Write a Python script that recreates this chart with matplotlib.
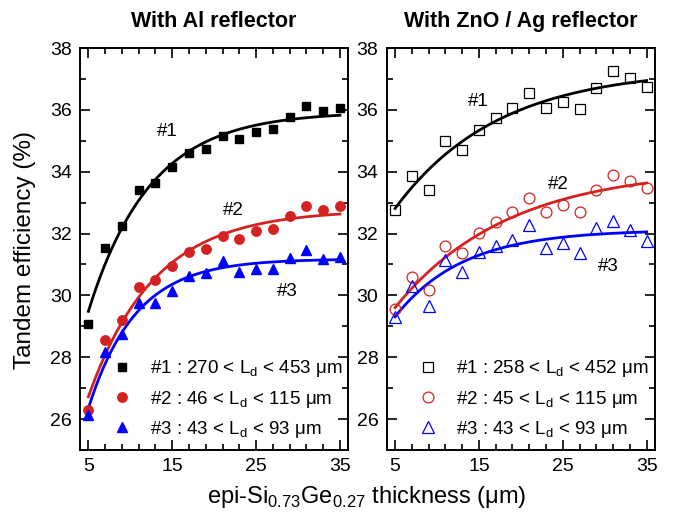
import numpy as np
import matplotlib
matplotlib.use('Agg')
import matplotlib.pyplot as plt
from matplotlib.ticker import FixedLocator

plt.rcParams['font.family'] = ['Liberation Sans', 'DejaVu Sans']
plt.rcParams['mathtext.fontset'] = 'custom'
plt.rcParams['mathtext.rm'] = 'Liberation Sans'

# Espesor de la capa epi (um)
thickness = [5, 7, 9, 11, 13, 15, 17, 19, 21, 23, 25, 27, 29, 31, 33, 35]

# Reflector de Al
al_1 = [29.06, 31.54, 32.24, 33.40, 33.63, 34.14, 34.60, 34.73, 35.14, 35.06,
        35.30, 35.38, 35.78, 36.11, 35.97, 36.05]
al_2 = [26.30, 28.56, 29.20, 30.28, 30.49, 30.95, 31.40, 31.51, 31.91, 31.84,
        32.08, 32.15, 32.56, 32.88, 32.75, 32.88]
al_3 = [26.13, 28.17, 28.74, 29.76, 29.76, 30.14, 30.62, 30.73, 31.11, 30.76,
        30.87, 30.84, 31.22, 31.46, 31.19, 31.25]

# Reflector de ZnO / Ag
ag_1 = [32.77, 33.85, 33.42, 34.98, 34.71, 35.35, 35.75, 36.05, 36.54, 36.05,
        36.27, 36.02, 36.72, 37.27, 37.04, 36.75]
ag_2 = [29.55, 30.59, 30.16, 31.61, 31.38, 32.02, 32.37, 32.69, 33.15, 32.69,
        32.91, 32.71, 33.40, 33.90, 33.71, 33.47]
ag_3 = [29.31, 30.30, 29.66, 31.14, 30.76, 31.41, 31.59, 31.78, 32.27, 31.54,
        31.70, 31.38, 32.18, 32.42, 32.13, 31.75]

labels_al = ['#1 : 270 < L$_\\mathregular{d}$ < 453 μm',
             '#2 : 46 < L$_\\mathregular{d}$ < 115 μm',
             '#3 : 43 < L$_\\mathregular{d}$ < 93 μm']
labels_ag = ['#1 : 258 < L$_\\mathregular{d}$ < 452 μm',
             '#2 : 45 < L$_\\mathregular{d}$ < 115 μm',
             '#3 : 43 < L$_\\mathregular{d}$ < 93 μm']

colors = ['#000000', '#d42222', '#0000ff']
markers = ['s', 'o', '^']
msizes = [6.2, 6.8, 7.2]


def exp_fit(x, y):
    """Ajuste y = A - B*exp(-x/t) por minimos cuadrados."""
    x = np.asarray(x, float)
    y = np.asarray(y, float)
    best = None
    for t in np.linspace(1, 40, 800):
        M = np.column_stack([np.ones_like(x), -np.exp(-x / t)])
        coef, res, *_ = np.linalg.lstsq(M, y, rcond=None)
        err = np.sum((M @ coef - y) ** 2)
        if best is None or err < best[0]:
            best = (err, coef, t)
    _, (a, b), t = best
    xx = np.linspace(x.min(), x.max(), 200)
    return xx, a - b * np.exp(-xx / t)


fig = plt.figure(figsize=(6.75, 5.22), dpi=100)
ax1 = fig.add_axes([0.1185, 0.1379, 0.3975, 0.7701])
ax2 = fig.add_axes([0.5729, 0.1379, 0.3975, 0.7701])

for ax, series, labels, filled in [(ax1, [al_1, al_2, al_3], labels_al, True),
                                   (ax2, [ag_1, ag_2, ag_3], labels_ag, False)]:
    handles = []
    for y, c, m, ms, lab in zip(series, colors, markers, msizes, labels):
        xx, yy = exp_fit(thickness, y)
        ax.plot(xx, yy, color=c, lw=2.0, zorder=2)
        if filled:
            h, = ax.plot(thickness, y, ls='none', marker=m, ms=ms, color=c,
                         mec=c, label=lab, zorder=3)
        else:
            h, = ax.plot(thickness, y, ls='none', marker=m, ms=ms + 1, mfc='none',
                         mec=c, mew=0.9, label=lab, zorder=3)
        handles.append(h)
    ax.legend(handles=handles, loc='lower left', bbox_to_anchor=(0.12, 0.025),
              frameon=False, fontsize=13.5, borderpad=0, handlelength=1.0,
              handletextpad=1.0, labelspacing=0.5, borderaxespad=0)

    ax.set_xlim(4, 36)
    ax.set_ylim(25, 38)
    ax.set_xticks([5, 15, 25, 35])
    ax.xaxis.set_minor_locator(FixedLocator(np.arange(5, 36, 2)))
    ax.set_yticks([26, 28, 30, 32, 34, 36, 38])
    ax.yaxis.set_minor_locator(FixedLocator(np.arange(25, 39, 1)))
    ax.tick_params(which='both', direction='in', top=True, right=True,
                   labelsize=14, width=1.2)
    ax.tick_params(which='major', length=7, pad=6)
    ax.tick_params(which='minor', length=4)
    for s in ax.spines.values():
        s.set_linewidth(1.4)

# Etiquetas de las curvas
ax1.text(14.4, 35.3, '#1', fontsize=13.5, ha='center', va='center')
ax1.text(22.3, 32.75, '#2', fontsize=13.5, ha='center', va='center')
ax1.text(28.7, 30.14, '#3', fontsize=13.5, ha='center', va='center')
ax2.text(14.9, 36.27, '#1', fontsize=13.5, ha='center', va='center')
ax2.text(24.45, 33.6, '#2', fontsize=13.5, ha='center', va='center')
ax2.text(30.4, 30.95, '#3', fontsize=13.5, ha='center', va='center')

ax1.set_title('With Al reflector', fontsize=15.5, fontweight='bold', pad=15)
ax2.set_title('With ZnO / Ag reflector', fontsize=15.5, fontweight='bold', pad=15)

fig.text(0.544, 0.036, 'epi-Si$_\\mathregular{0.73}$Ge$_\\mathregular{0.27}$ thickness (μm)',
         fontsize=17, ha='center', va='baseline')
fig.text(0.037, 0.521, 'Tandem efficiency (%)', fontsize=17.5, rotation=90,
         ha='center', va='center')

plt.savefig('out.png', dpi=100)
